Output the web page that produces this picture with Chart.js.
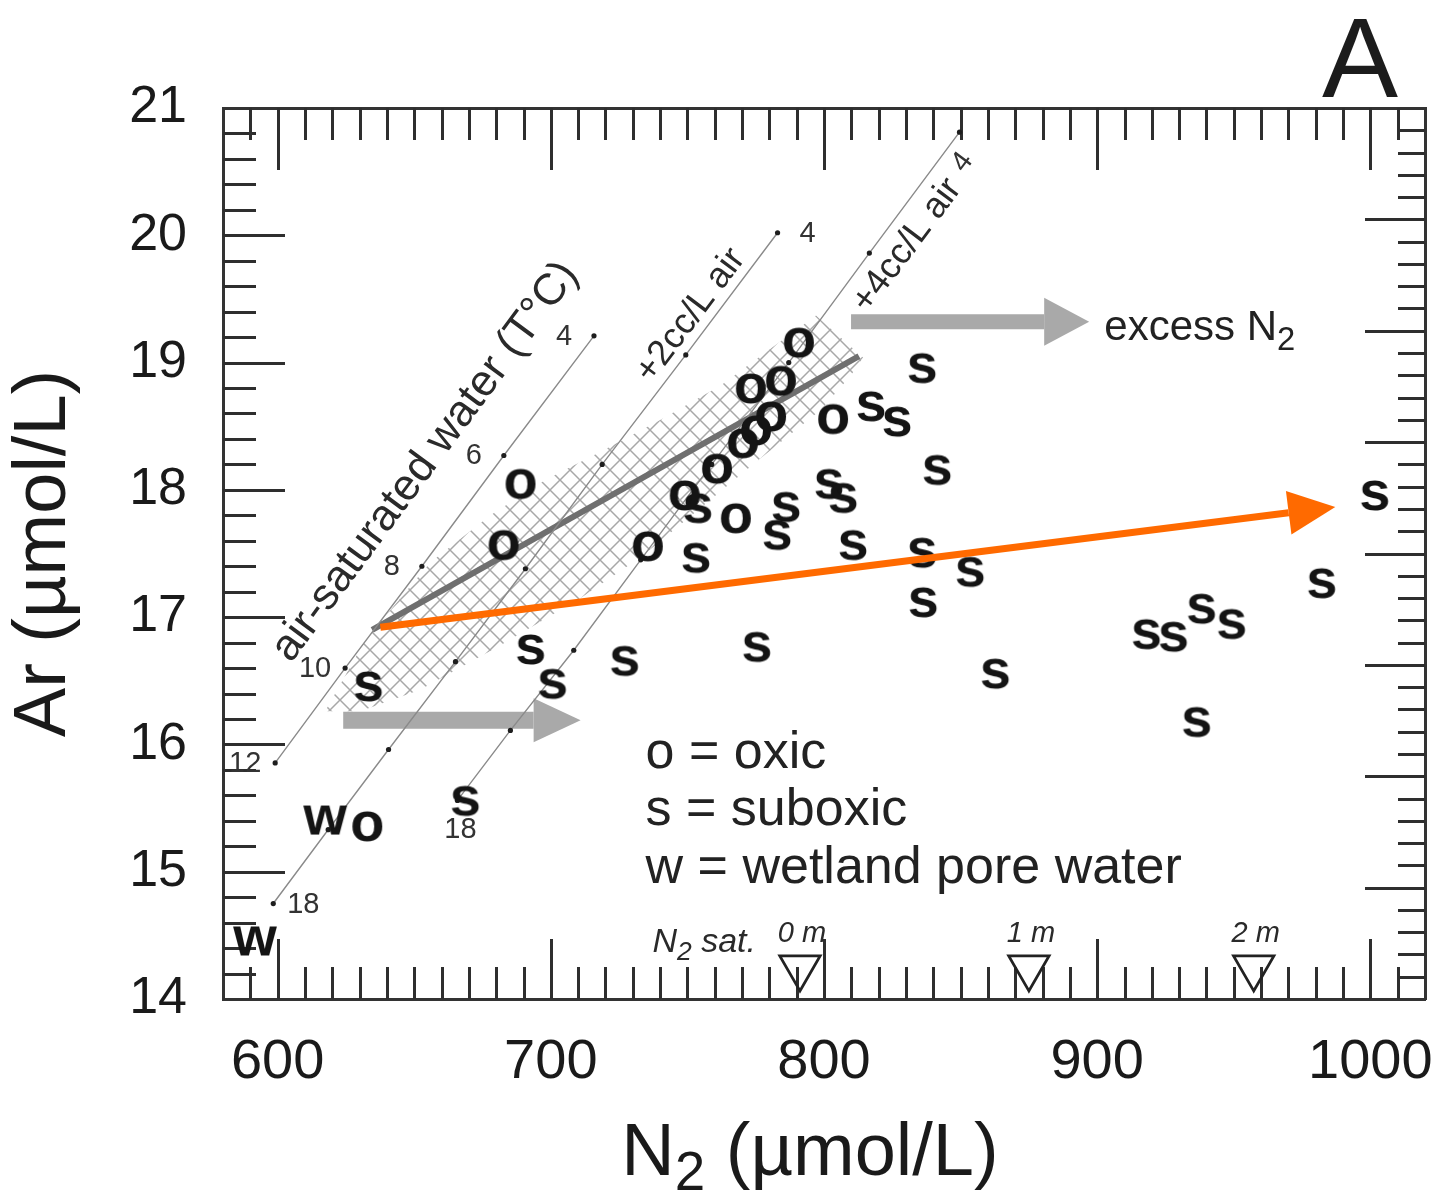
<!DOCTYPE html>
<html>
<head>
<meta charset="utf-8">
<script src="https://cdn.jsdelivr.net/npm/chart.js@4.4.1/dist/chart.umd.min.js"></script>
<style>
  html, body { margin: 0; padding: 0; background: #ffffff; }
  canvas { display: block; }
</style>
</head>
<body>
<canvas id="c" width="1439" height="1192"></canvas>
<script>
// ---------------- DATA ----------------
// Samples: N2 (µmol/L) and Ar (µmol/L)
const oxicN2 = [688.9, 682.7, 790.8, 773.2, 784.2, 780.6, 775.1, 770.3, 803.3, 760.8, 749.0, 767.7, 735.5, 632.8];
const oxicAr = [18.05, 17.57, 19.16, 18.80, 18.86, 18.58, 18.47, 18.37, 18.56, 18.17, 17.96, 17.78, 17.56, 15.36];

const suboxicN2 = [835.9, 817.2, 826.7, 841.4, 801.8, 807.0, 786.1, 782.8, 753.8, 810.6, 753.1, 835.9, 853.5, 836.3,
                   775.4, 727.0, 692.6, 700.6, 633.2, 862.7, 668.7, 1001.6, 982.2, 918.0, 927.9, 938.2, 949.2, 936.4];
const suboxicAr = [18.96, 18.66, 18.54, 18.16, 18.05, 17.94, 17.87, 17.65, 17.86, 17.57, 17.47, 17.51, 17.36, 17.12,
                   16.77, 16.66, 16.75, 16.48, 16.46, 16.56, 15.56, 17.96, 17.27, 16.87, 16.85, 17.07, 16.95, 16.18];

const wetlandN2 = [617.4, 591.7];
const wetlandAr = [15.41, 14.46];

// Air-saturated water curve and excess-air curves, labelled by temperature (°C)
const aswTemp = [4, 6, 8, 10, 12];
const aswN2   = [715.8, 682.8, 652.8, 624.7, 599.1];
const aswAr   = [19.21, 18.27, 17.40, 16.60, 15.855];

const air2Temp = [4, 6, 8, 10, 12, 14, 16, 18];
const air2N2   = [783.0, 749.4, 718.8, 690.7, 665.1, 640.6, 618.5, 598.4];
const air2Ar   = [20.02, 19.06, 18.20, 17.38, 16.65, 15.96, 15.33, 14.75];

const air4Temp = [4, 6, 8, 10, 12, 14, 16, 18];
const air4N2   = [849.6, 816.6, 787.1, 758.9, 732.9, 708.4, 685.2, 665.8];
const air4Ar   = [20.81, 19.86, 19.00, 18.20, 17.45, 16.74, 16.11, 15.56];

// Oxic trend line and hatched oxic zone outline
const trendN2 = [634.6, 812.8];
const trendAr = [16.90, 19.05];

const zoneN2 = [617.4, 632.1, 655.9, 677.9, 698.1, 718.2, 740.2, 762.2, 782.4, 797.1, 814.3,
                809.9, 798.9, 776.9, 754.9, 732.9, 710.9, 681.6, 652.2, 630.2];
const zoneAr = [16.26, 16.82, 17.43, 17.80, 18.08, 18.30, 18.55, 18.82, 19.14, 19.37, 19.04,
                18.90, 18.63, 18.25, 17.86, 17.47, 17.15, 16.78, 16.43, 16.26];

// Arrows (start point and head base)
const excessArrowN2 = [637.6, 970.1];
const excessArrowAr = [16.92, 17.82];
const lowArrowN2 = [624.0, 693.7];
const lowArrowAr = [16.19, 16.19];
const topArrowN2 = [809.9, 880.6];
const topArrowAr = [19.32, 19.32];

// N2 saturation at depth markers
const depthLabels = ['0 m', '1 m', '2 m'];
const depthN2 = [791.2, 875.0, 957.3];
const depthAr = [14.247, 14.247, 14.247];

// Axis tick labels
const xTickLabels = [600, 700, 800, 900, 1000];
const yTickLabels = [14, 15, 16, 17, 18, 19, 20, 21];

// ---------------- helpers ----------------
const FONT = '"Liberation Sans", Arial, Helvetica, sans-serif';
const pts = (xs, ys) => xs.map((x, i) => ({ x, y: ys[i] }));

function letterImg(ch, size) {
  const c = document.createElement('canvas');
  c.width = 76; c.height = 76;
  const g = c.getContext('2d');
  g.fillStyle = '#141414';
  g.font = 'bold ' + size + 'px ' + FONT;
  g.textAlign = 'center';
  g.textBaseline = 'alphabetic';
  g.fillText(ch, 38, 38 + size * 0.262);
  return c;
}

const mainCanvas = document.getElementById('c');
const mainCtx = mainCanvas.getContext('2d');
function makeHatch() {
  const t = document.createElement('canvas');
  t.width = 20; t.height = 20;
  const g = t.getContext('2d');
  g.strokeStyle = '#a8a8a8';
  g.lineWidth = 1.5;
  g.beginPath();
  g.moveTo(-2, -2); g.lineTo(22, 22);
  g.moveTo(22, -2); g.lineTo(-2, 22);
  g.stroke();
  return mainCtx.createPattern(t, 'repeat');
}

function drawRich(ctx, parts, x, y, size, style, align, subScale, subShift) {
  const ss = subScale || 0.78, sh = subShift || 0.25;
  const f = s => (style ? style + ' ' : '') + s + 'px ' + FONT;
  const widths = parts.map(p => { ctx.font = f(p.sub ? size * ss : size); return ctx.measureText(p.t).width; });
  const total = widths.reduce((a, b) => a + b, 0);
  let cx = align === 'right' ? x - total : align === 'center' ? x - total / 2 : x;
  ctx.textAlign = 'left';
  ctx.textBaseline = 'alphabetic';
  parts.forEach((p, i) => {
    ctx.font = f(p.sub ? size * ss : size);
    ctx.fillText(p.t, cx, y + (p.sub ? size * sh : 0));
    cx += widths[i];
  });
}

// ---------------- annotation config (not data) ----------------
const rotatedNotes = [
  { text: 'air-saturated water (T°C)', n2: 654.1, ar: 18.22, rot: -53.5, size: 44 },
  { text: '+2cc/L air', n2: 751.2, ar: 19.37, rot: -53, size: 36 },
  { text: '+4cc/L air', n2: 830.4, ar: 19.92, rot: -53, size: 36 }
];
const richNotes = [
  { parts: [{ t: 'excess N' }, { t: '2', sub: true }], n2: 902.6, ar: 19.18, size: 42 },
  { parts: [{ t: 'o = oxic' }], n2: 734.7, ar: 15.815, size: 52 },
  { parts: [{ t: 's = suboxic' }], n2: 734.7, ar: 15.368, size: 52 },
  { parts: [{ t: 'w = wetland pore water' }], n2: 734.7, ar: 14.912, size: 52 }
];
// label placement per curve (pixel offsets from the temperature dot)
const tempLabelPlacement = {
  asw:  { show: [4, 6, 8, 10, 12], dx: -30, dy: 1, rot: {} },
  air2: { show: [4, 18], dx: 30, dy: 1, rot: {} },
  air4: { show: [4, 18], dx: 3, dy: 30, rot: { 4: -53 } }
};
// x-axis title, drawn with a true subscript
const xTitleParts = [{ t: 'N' }, { t: '2', sub: true }, { t: ' (µmol/L)' }];

// ---------------- plugins ----------------
const inwardTicks = {
  id: 'inwardTicks',
  beforeDatasetsDraw(chart, args, opts) {
    const ctx = chart.ctx, a = chart.chartArea;
    ctx.save();
    ctx.strokeStyle = '#2e2e2e';
    ctx.lineWidth = 3;
    for (const ax of opts.axes) {
      const s = chart.scales[ax.id];
      for (const t of s.ticks) {
        if (t.value <= s.min + 1e-9 || t.value >= s.max - 1e-9) continue;
        const q = t.value / ax.major;
        const major = Math.abs(q - Math.round(q)) < 1e-6;
        const len = major ? ax.majorLen : ax.minorLen;
        const p = Math.round(s.getPixelForValue(t.value)) + 0.5;
        ctx.beginPath();
        if (s.position === 'bottom') { ctx.moveTo(p, a.bottom); ctx.lineTo(p, a.bottom - len); }
        else if (s.position === 'top') { ctx.moveTo(p, a.top); ctx.lineTo(p, a.top + len); }
        else if (s.position === 'left') { ctx.moveTo(a.left, p); ctx.lineTo(a.left + len, p); }
        else { ctx.moveTo(a.right, p); ctx.lineTo(a.right - len, p); }
        ctx.stroke();
      }
    }
    ctx.restore();
  }
};

const arrowHeads = {
  id: 'arrowHeads',
  afterDatasetDraw(chart, args) {
    const ds = chart.data.datasets[args.index];
    if (!ds.arrowHead) return;
    const p = args.meta.data;
    const a = p[p.length - 2], b = p[p.length - 1];
    const dx = b.x - a.x, dy = b.y - a.y, L = Math.hypot(dx, dy);
    const ux = dx / L, uy = dy / L;
    const { len, half } = ds.arrowHead;
    const ctx = chart.ctx;
    ctx.save();
    ctx.fillStyle = ds.borderColor;
    ctx.beginPath();
    ctx.moveTo(b.x + ux * len, b.y + uy * len);
    ctx.lineTo(b.x - uy * half, b.y + ux * half);
    ctx.lineTo(b.x + uy * half, b.y - ux * half);
    ctx.closePath();
    ctx.fill();
    ctx.restore();
  }
};

const annotate = {
  id: 'annotate',
  afterDatasetsDraw(chart) {
    const ctx = chart.ctx;
    const xs = chart.scales.x, ys = chart.scales.y;
    const X = v => xs.getPixelForValue(v), Y = v => ys.getPixelForValue(v);
    ctx.save();
    ctx.fillStyle = '#2a2a2a';
    // rotated curve names
    for (const n of rotatedNotes) {
      ctx.save();
      ctx.translate(X(n.n2), Y(n.ar));
      ctx.rotate(n.rot * Math.PI / 180);
      ctx.font = n.size + 'px ' + FONT;
      ctx.textAlign = 'center';
      ctx.textBaseline = 'middle';
      ctx.fillText(n.text, 0, 0);
      ctx.restore();
    }
    // temperature labels
    const temps = { asw: aswTemp, air2: air2Temp, air4: air4Temp };
    chart.data.datasets.forEach((ds, i) => {
      if (!ds.curveKey) return;
      const pl = tempLabelPlacement[ds.curveKey];
      const meta = chart.getDatasetMeta(i);
      temps[ds.curveKey].forEach((T, k) => {
        if (!pl.show.includes(T)) return;
        const pt = meta.data[k];
        ctx.save();
        ctx.translate(pt.x + pl.dx, pt.y + pl.dy);
        if (pl.rot[T]) ctx.rotate(pl.rot[T] * Math.PI / 180);
        ctx.font = '29px ' + FONT;
        ctx.textAlign = 'center';
        ctx.textBaseline = 'middle';
        ctx.fillStyle = '#333';
        ctx.fillText(String(T), 0, 0);
        ctx.restore();
      });
    });
    // text notes with subscripts / legend
    ctx.fillStyle = '#222';
    for (const n of richNotes) drawRich(ctx, n.parts, X(n.n2), Y(n.ar), n.size, '', 'left');
    // depth markers labels
    const dIdx = chart.data.datasets.findIndex(d => d.depthMarkers);
    if (dIdx >= 0) {
      const meta = chart.getDatasetMeta(dIdx);
      ctx.fillStyle = '#2a2a2a';
      meta.data.forEach((pt, k) => {
        drawRich(ctx, [{ t: depthLabels[k] }], pt.x + 2, pt.y - 26, 29, 'italic', 'center');
      });
      const p0 = meta.data[0];
      drawRich(ctx, [{ t: 'N' }, { t: '2', sub: true }, { t: ' sat.' }], p0.x - 44, p0.y - 16, 34, 'italic', 'right');
    }
    ctx.restore();
  },
  afterDraw(chart) {
    const ctx = chart.ctx, a = chart.chartArea, xs = chart.scales.x;
    ctx.save();
    ctx.fillStyle = '#1c1c1c';
    ctx.font = '114px ' + FONT;
    ctx.textAlign = 'right';
    ctx.textBaseline = 'alphabetic';
    ctx.fillText('A', a.right - 27, a.top - 11);
    // x-axis title (subscripted N2), centred slightly left of the axis centre as in the figure
    ctx.fillStyle = '#1a1a1a';
    drawRich(ctx, xTitleParts, (xs.left + xs.right) / 2 - 14, xs.bottom - 17, 74, '', 'center', 0.74, 0.2);
    ctx.restore();
  }
};

// ---------------- chart ----------------
const imgO = letterImg('o', 56), imgS = letterImg('s', 56), imgW = letterImg('w', 56);

const borderOpts = { display: true, color: '#333', width: 3 };
const noGrid = { drawOnChartArea: false, drawTicks: false };
// invisible tick marks only used to offset the labels from the frame
const spacerGrid = (len) => ({ drawOnChartArea: false, drawTicks: true, tickLength: len, tickColor: 'rgba(0,0,0,0)' });
// fixed box size, no extra label overhang padding
const fixSize = (dim, val) => (s) => {
  s[dim] = val;
  s.paddingLeft = 0; s.paddingRight = 0; s.paddingTop = 0; s.paddingBottom = 0;
};

new Chart(mainCtx, {
  type: 'scatter',
  data: {
    datasets: [
      { label: 'excess N2 trend', data: pts(excessArrowN2, excessArrowAr), showLine: true,
        borderColor: '#ff6a00', borderWidth: 7, borderCapStyle: 'butt', pointRadius: 0, order: 1,
        arrowHead: { len: 47, half: 22 } },
      { label: 'oxic', data: pts(oxicN2, oxicAr), pointStyle: imgO, pointRadius: 12, order: 2 },
      { label: 'suboxic', data: pts(suboxicN2, suboxicAr), pointStyle: imgS, pointRadius: 12, order: 2 },
      { label: 'wetland pore water', data: pts(wetlandN2, wetlandAr), pointStyle: imgW, pointRadius: 12, order: 2 },
      { label: 'N2 sat.', data: pts(depthN2, depthAr), pointStyle: 'triangle', rotation: 180, pointRadius: 23.3,
        pointBorderColor: '#222', pointBackgroundColor: 'rgba(0,0,0,0)', pointBorderWidth: 2.8, order: 3,
        depthMarkers: true },
      { label: 'air-saturated water', curveKey: 'asw', data: pts(aswN2, aswAr), showLine: true,
        borderColor: '#8a8a8a', borderWidth: 1.4, pointRadius: 2.6, pointBackgroundColor: '#1e1e1e',
        pointBorderWidth: 0, order: 4 },
      { label: '+2cc/L air', curveKey: 'air2', data: pts(air2N2, air2Ar), showLine: true,
        borderColor: '#8a8a8a', borderWidth: 1.4, pointRadius: 2.6, pointBackgroundColor: '#1e1e1e',
        pointBorderWidth: 0, order: 4 },
      { label: '+4cc/L air', curveKey: 'air4', data: pts(air4N2, air4Ar), showLine: true,
        borderColor: '#8a8a8a', borderWidth: 1.4, pointRadius: 2.6, pointBackgroundColor: '#1e1e1e',
        pointBorderWidth: 0, order: 4 },
      { label: 'oxic trend', data: pts(trendN2, trendAr), showLine: true,
        borderColor: '#6f6f6f', borderWidth: 6, pointRadius: 0, order: 5 },
      { label: 'arrow low', data: pts(lowArrowN2, lowArrowAr), showLine: true,
        borderColor: '#a9a9a9', borderWidth: 17, borderCapStyle: 'butt', pointRadius: 0, order: 6,
        arrowHead: { len: 47, half: 22 } },
      { label: 'arrow top', data: pts(topArrowN2, topArrowAr), showLine: true,
        borderColor: '#a9a9a9', borderWidth: 15, borderCapStyle: 'butt', pointRadius: 0, order: 6,
        arrowHead: { len: 45, half: 24 } },
      { label: 'oxic zone', data: pts(zoneN2, zoneAr), showLine: true, fill: 'shape',
        backgroundColor: makeHatch(), borderColor: 'rgba(0,0,0,0)', borderWidth: 1, pointRadius: 0, order: 7 }
    ]
  },
  options: {
    responsive: false,
    animation: false,
    events: [],
    layout: { padding: 0, autoPadding: false },
    plugins: {
      legend: { display: false },
      title: { display: false },
      tooltip: { enabled: false },
      inwardTicks: {
        axes: [
          { id: 'x',  major: 100, majorLen: 60, minorLen: 32 },
          { id: 'x2', major: 100, majorLen: 62, minorLen: 32 },
          { id: 'y',  major: 1,   majorLen: 62, minorLen: 33 },
          { id: 'y2', major: 1,   majorLen: 60, minorLen: 27 }
        ]
      }
    },
    scales: {
      x: {
        type: 'linear', position: 'bottom', min: 580, max: 1020,
        ticks: {
          stepSize: 10, autoSkip: false, maxRotation: 0, minRotation: 0, padding: 4,
          color: '#1a1a1a', font: { size: 56, family: FONT },
          callback: v => (xTickLabels.includes(Math.round(v)) && Math.abs(v - Math.round(v)) < 1e-6 ? String(Math.round(v)) : '')
        },
        grid: spacerGrid(26), border: borderOpts,
        title: { display: false, text: 'N₂ (µmol/L)' },
        afterFit: fixSize('height', 193)
      },
      x2: {
        type: 'linear', position: 'top', min: 580, max: 1020,
        ticks: { stepSize: 10, display: false, autoSkip: false },
        grid: noGrid, border: borderOpts,
        afterFit: fixSize('height', 108)
      },
      y: {
        type: 'linear', position: 'left', min: 14, max: 21,
        ticks: {
          stepSize: 0.2, autoSkip: false, padding: 4,
          color: '#1a1a1a', font: { size: 52, family: FONT },
          callback: v => {
            const r = Math.round(v);
            return Math.abs(v - r) < 1e-6 && yTickLabels.includes(r) ? String(r) : '';
          }
        },
        grid: spacerGrid(32), border: borderOpts,
        title: { display: true, text: 'Ar (µmol/L)', color: '#1a1a1a', padding: 0,
                 font: { size: 74, family: FONT, lineHeight: 1.2 } },
        afterFit: fixSize('width', 223)
      },
      y2: {
        type: 'linear', position: 'right', min: 0, max: 8,
        ticks: { stepSize: 0.2, display: false, autoSkip: false },
        grid: noGrid, border: borderOpts,
        afterFit: fixSize('width', 14)
      }
    }
  },
  plugins: [inwardTicks, arrowHeads, annotate]
});
</script>
</body>
</html>
